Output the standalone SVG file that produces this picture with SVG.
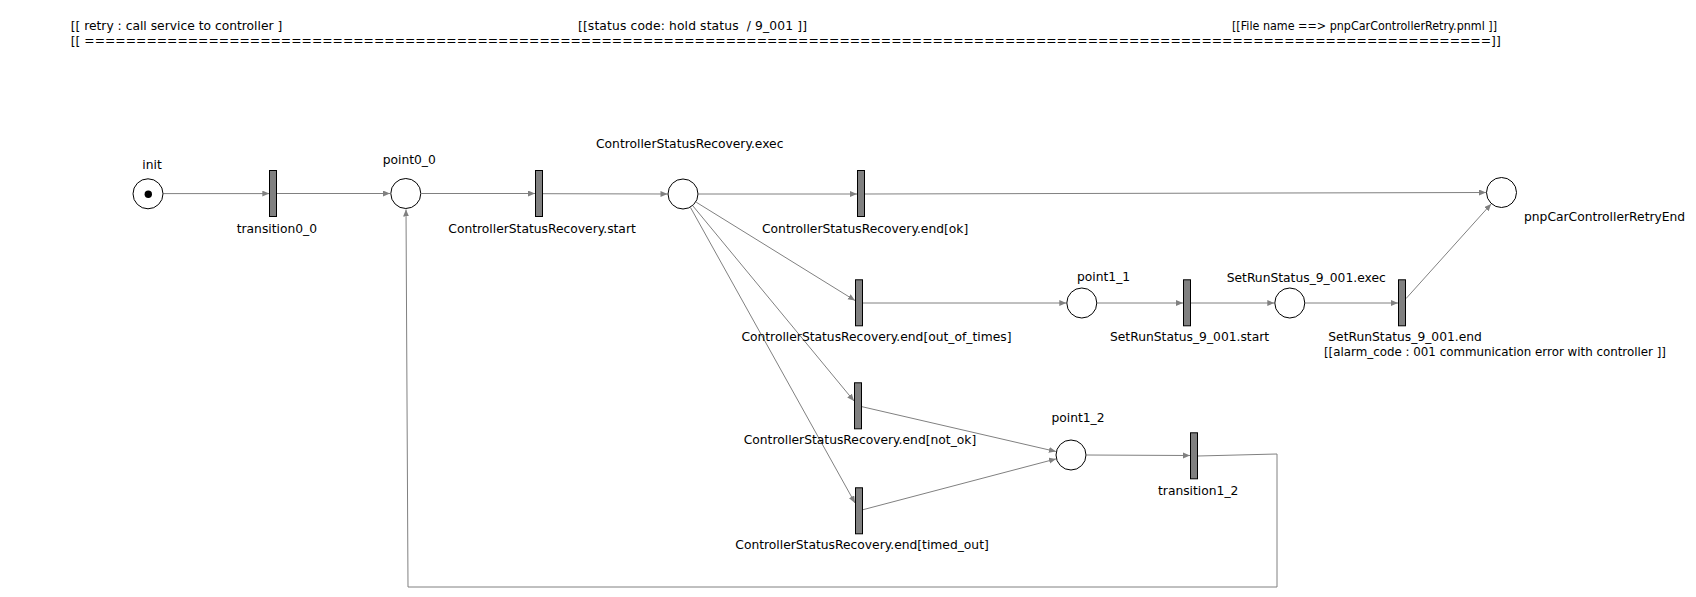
<svg xmlns="http://www.w3.org/2000/svg" width="1696" height="597" viewBox="0 0 1696 597">
  <style>
    text { font-family: "DejaVu Sans", "Liberation Sans", sans-serif; font-size: 12.3px; fill: #000; white-space: pre; }
    .place { fill: #fff; stroke: #000; stroke-width: 1; }
    .token { fill: #000; }
    .trans { fill: #808080; stroke: #000; stroke-width: 1; }
    .arc { fill: none; stroke: #808080; stroke-width: 1; }
    .arrow { marker-end: url(#head); }
  </style>
  <defs>
    <marker id="head" markerUnits="userSpaceOnUse" markerWidth="8" markerHeight="7" refX="7" refY="3" orient="auto">
      <path d="M0,0 L7,3 L0,6 z" fill="#808080"/>
    </marker>
  </defs>
  <rect width="1696" height="597" fill="#fff"/>

  <!-- header comments -->
  <g id="header">
    <text x="70.7" y="30">[[ retry : call service to controller ]</text>
    <text x="578" y="30" textLength="229" lengthAdjust="spacing">[[status code: hold status  / 9_001 ]]</text>
    <text x="1232" y="30" textLength="265" lengthAdjust="spacingAndGlyphs">[[File name ==&gt; pnpCarControllerRetry.pnml ]]</text>
    <text x="70.7" y="45" textLength="1430" lengthAdjust="spacing">[[ ========================================================================================================================================]]</text>
  </g>

  <!-- arcs -->
  <g id="connectors">
    <line class="arc arrow" x1="163.3" y1="193.6" x2="269.3" y2="193.6"/>
    <line class="arc arrow" x1="277" y1="193.5" x2="390" y2="193.5"/>
    <line class="arc arrow" x1="421.5" y1="193.5" x2="535" y2="193.5"/>
    <line class="arc arrow" x1="543" y1="193.7" x2="667.5" y2="194"/>
    <line class="arc arrow" x1="698.5" y1="194" x2="857" y2="194"/>
    <line class="arc arrow" x1="865" y1="194" x2="1486" y2="192.5"/>
    <line class="arc arrow" x1="696.2" y1="202.2" x2="855" y2="300.5"/>
    <line class="arc arrow" x1="692.9" y1="205.9" x2="854" y2="401"/>
    <line class="arc arrow" x1="690.5" y1="207.5" x2="855" y2="503"/>
    <line class="arc arrow" x1="863" y1="303" x2="1066.3" y2="303"/>
    <line class="arc arrow" x1="1097.3" y1="303" x2="1183" y2="303"/>
    <line class="arc arrow" x1="1191" y1="303" x2="1274.3" y2="303"/>
    <line class="arc arrow" x1="1305.3" y1="303" x2="1398" y2="303"/>
    <line class="arc arrow" x1="1406" y1="298.6" x2="1491.1" y2="204"/>
    <line class="arc arrow" x1="862" y1="406.7" x2="1055.9" y2="451.5"/>
    <line class="arc arrow" x1="863" y1="509.7" x2="1056" y2="458.9"/>
    <line class="arc arrow" x1="1086.5" y1="455" x2="1190" y2="455.5"/>
    <polyline class="arc arrow" points="1198,456 1277,454 1277,587 408,587 406,209.5"/>
  </g>

  <!-- places -->
  <g id="init">
    <circle class="place" cx="148" cy="193.8" r="15"/>
    <circle class="token" cx="148.3" cy="194.2" r="3.7"/>
    <text x="142.3" y="168.5">init</text>
  </g>
  <g id="point0_0">
    <circle class="place" cx="405.8" cy="193.5" r="15"/>
    <text x="382.7" y="164">point0_0</text>
  </g>
  <g id="ControllerStatusRecovery.exec">
    <circle class="place" cx="683" cy="194" r="15"/>
    <text x="596" y="148">ControllerStatusRecovery.exec</text>
  </g>
  <g id="pnpCarControllerRetryEnd">
    <circle class="place" cx="1501.5" cy="192.5" r="15"/>
    <text x="1524" y="221">pnpCarControllerRetryEnd</text>
  </g>
  <g id="point1_1">
    <circle class="place" cx="1081.8" cy="303" r="15"/>
    <text x="1077" y="281">point1_1</text>
  </g>
  <g id="SetRunStatus_9_001.exec">
    <circle class="place" cx="1289.8" cy="303" r="15"/>
    <text x="1226.7" y="282">SetRunStatus_9_001.exec</text>
  </g>
  <g id="point1_2">
    <circle class="place" cx="1071" cy="455" r="15"/>
    <text x="1051.4" y="422">point1_2</text>
  </g>

  <!-- transitions -->
  <g id="transition0_0">
    <rect class="trans" x="269.5" y="170.5" width="7" height="46"/>
    <text x="236.7" y="233">transition0_0</text>
  </g>
  <g id="ControllerStatusRecovery.start">
    <rect class="trans" x="535.5" y="170.5" width="7" height="46"/>
    <text x="448.3" y="233">ControllerStatusRecovery.start</text>
  </g>
  <g id="ControllerStatusRecovery.end_ok">
    <rect class="trans" x="857.5" y="170.5" width="7" height="46"/>
    <text x="762" y="233">ControllerStatusRecovery.end[ok]</text>
  </g>
  <g id="ControllerStatusRecovery.end_out_of_times">
    <rect class="trans" x="855.5" y="279.8" width="7" height="46"/>
    <text x="741.4" y="341">ControllerStatusRecovery.end[out_of_times]</text>
  </g>
  <g id="SetRunStatus_9_001.start">
    <rect class="trans" x="1183.5" y="279.8" width="7" height="46"/>
    <text x="1110" y="341">SetRunStatus_9_001.start</text>
  </g>
  <g id="SetRunStatus_9_001.end">
    <rect class="trans" x="1398.5" y="279.8" width="7" height="46"/>
    <text x="1328.3" y="341">SetRunStatus_9_001.end</text>
    <text x="1324" y="356" textLength="342" lengthAdjust="spacingAndGlyphs">[[alarm_code : 001 communication error with controller ]]</text>
  </g>
  <g id="ControllerStatusRecovery.end_not_ok">
    <rect class="trans" x="854.5" y="382.8" width="7" height="46"/>
    <text x="743.7" y="444">ControllerStatusRecovery.end[not_ok]</text>
  </g>
  <g id="transition1_2">
    <rect class="trans" x="1190.5" y="432.8" width="7" height="46"/>
    <text x="1158" y="495">transition1_2</text>
  </g>
  <g id="ControllerStatusRecovery.end_timed_out">
    <rect class="trans" x="855.5" y="487.8" width="7" height="46"/>
    <text x="735.3" y="549">ControllerStatusRecovery.end[timed_out]</text>
  </g>
</svg>
